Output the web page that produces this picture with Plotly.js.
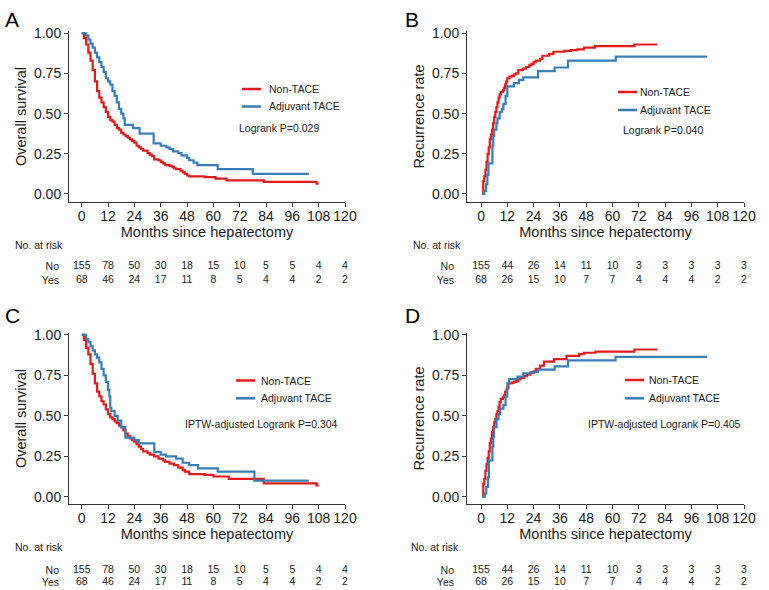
<!DOCTYPE html>
<html><head><meta charset="utf-8">
<script src="https://cdn.plot.ly/plotly-3.0.1.min.js"></script>
<style>html,body{margin:0;padding:0;background:#fff}#chart{width:769px;height:590px}</style>
</head><body><div id="chart"></div>
<script>
// ---------- DATA ----------
// Panel A: overall survival (unadjusted)
var osA_nonT = [0,1,2,3,4,5,6,7,8,9,10,11,12,13,14,15,16,17,18,19,20,21,22,23,24,25,26,27,28,30,31,32,33,35,36,37,38,40,41,42,43,45,46,47,48,49,56,61,66,83,107,108];
var osA_nonS = [1,0.97,0.93,0.88,0.83,0.77,0.70,0.64,0.60,0.57,0.54,0.51,0.48,0.46,0.45,0.43,0.41,0.40,0.38,0.37,0.36,0.35,0.34,0.33,0.32,0.30,0.29,0.28,0.27,0.255,0.245,0.235,0.215,0.21,0.20,0.19,0.18,0.175,0.17,0.16,0.155,0.145,0.135,0.125,0.115,0.11,0.105,0.095,0.085,0.075,0.065,0.065];
var osA_tacT = [0,2,3,4,5,6,7,8,9,10,11,12,13,14,15,16,17,18,19,19.6,23.4,26.4,32.8,36,38.6,40,41.6,44,45.5,48,49,51,52.7,62,78,103.5];
var osA_tacS = [1,0.985,0.96,0.935,0.91,0.88,0.85,0.82,0.79,0.76,0.72,0.70,0.68,0.64,0.61,0.57,0.53,0.50,0.47,0.43,0.41,0.375,0.315,0.30,0.29,0.28,0.265,0.255,0.24,0.225,0.21,0.195,0.18,0.155,0.125,0.125];
// Panel B: recurrence (unadjusted)
var rcB_nonT = [0.5,1,1.5,2,2.5,3,3.5,4,4.5,5,5.5,6,6.5,7,7.5,8,8.5,9,10,10.5,11,11.5,12,13,14,15,16,17,19,20.5,22,23,24,25,27,28,31,33,38,41,44,47,52,70,80.5];
var rcB_nonR = [0,0.08,0.11,0.15,0.20,0.25,0.29,0.34,0.37,0.40,0.44,0.48,0.51,0.54,0.57,0.60,0.62,0.635,0.645,0.66,0.68,0.70,0.72,0.73,0.735,0.745,0.75,0.77,0.78,0.79,0.80,0.81,0.82,0.83,0.84,0.86,0.87,0.885,0.89,0.895,0.90,0.91,0.92,0.93,0.93];
var rcB_tacT = [0.5,1.5,2.3,2.9,3.4,5.2,5.6,6,7,7.5,8.5,9.5,10.2,11.2,12,15,17.3,19.3,26,33.6,39.7,61.5,103.2];
var rcB_tacR = [0,0.02,0.06,0.12,0.19,0.30,0.36,0.40,0.44,0.47,0.51,0.53,0.56,0.61,0.67,0.69,0.71,0.725,0.765,0.787,0.83,0.855,0.855];
// Panel C: overall survival (IPTW)
var osC_nonT = [0,1,2,3,4,5,6,7,8,9,10,11,12,13,14,15,16,17,18,19,20,21,22,23,24,25,26,27,28,30,31,33,35,37,38,40,42,44,46,47,49,56,60,67,83,107,108];
var osC_nonS = [1,0.97,0.92,0.88,0.82,0.76,0.70,0.65,0.62,0.59,0.57,0.54,0.51,0.49,0.48,0.465,0.455,0.44,0.43,0.41,0.39,0.375,0.36,0.35,0.34,0.325,0.31,0.295,0.28,0.27,0.26,0.25,0.235,0.225,0.215,0.205,0.195,0.18,0.165,0.155,0.14,0.135,0.125,0.11,0.082,0.07,0.07];
var osC_tacT = [0,2,3,4,5,6,7,8,9,10,11,12,12.6,13,13.5,15,16.4,18,19.9,24,26,33.1,36,38.4,43,46,49,53,62,78.7,103.5];
var osC_tacS = [1,0.975,0.955,0.93,0.905,0.88,0.86,0.83,0.79,0.75,0.71,0.66,0.62,0.55,0.53,0.50,0.47,0.43,0.365,0.35,0.33,0.277,0.26,0.25,0.235,0.21,0.195,0.175,0.155,0.10,0.10];
// Panel D: recurrence (IPTW)
var rcD_nonT = [0.5,1,1.5,2,2.5,3,3.5,4,4.5,5,5.5,6,6.5,7,7.5,8,8.5,9,10,10.5,11,11.7,12.5,14,15,16,17,18,19.6,21,22.6,24,25,27,28.7,33.3,39,44.7,47,52.3,70,80.5];
var rcD_nonR = [0,0.08,0.11,0.16,0.20,0.24,0.28,0.33,0.36,0.40,0.43,0.46,0.48,0.51,0.53,0.555,0.585,0.605,0.615,0.625,0.65,0.67,0.70,0.705,0.71,0.715,0.725,0.735,0.745,0.755,0.765,0.775,0.79,0.81,0.835,0.85,0.87,0.882,0.89,0.897,0.91,0.91];
var rcD_tacT = [0.5,1.7,2.4,3.2,3.6,5.2,5.6,5.9,7.1,8,8.7,10.2,11.2,12,12.8,16.6,19.3,22.6,26,33.6,39.7,61.4,103.2];
var rcD_tacR = [0,0.02,0.06,0.12,0.225,0.31,0.37,0.43,0.48,0.51,0.545,0.566,0.62,0.70,0.727,0.742,0.762,0.771,0.786,0.806,0.843,0.864,0.864];

// Numbers at risk
var riskTimes = [0,12,24,36,48,60,72,84,96,108,120];
var riskOS_no  = [155,78,50,30,18,15,10,5,5,4,4];
var riskOS_yes = [68,46,24,17,11,8,5,4,4,2,2];
var riskRC_no  = [155,44,26,14,11,10,3,3,3,3,3];
var riskRC_yes = [68,26,15,10,7,7,4,4,4,2,2];
var riskRowLabels = ['No','Yes'];

var groupNames = ['Non-TACE','Adjuvant TACE'];
var panelLetters = ['A','B','C','D'];
var yTitles = ['Overall survival','Recurrence rate','Overall survival','Recurrence rate'];
var pTexts = ['Logrank P=0.029','Logrank P=0.040','IPTW-adjusted Logrank P=0.304','IPTW-adjusted Logrank P=0.405'];
var xTitle = 'Months since hepatectomy';

// ---------- STYLE / LAYOUT ----------
var W = 769, H = 590;
var RED = '#E41A1C', BLUE = '#377EB8';
var FONT = 'Liberation Sans, Arial, Helvetica, sans-serif';
var TXT = '#1a1a1a';
function fx(p){return p/W;}
function fy(p){return 1-p/H;}

var panels = [
  {xd:[69,345], yd:[202,31], xr:[-5.8,120], yr:[-0.0498,1.014], leg:{lx:242,tx:267,y1:89,y2:106.5,px:237,py:128}, letter:[12,19], risk:{lab:13,laby:245,rowR:57,no:266,yes:280}},
  {xd:[467,744], yd:[202,31], xr:[-6.4,120], yr:[-0.0498,1.014], leg:{lx:618,tx:638,y1:92,y2:110,px:621,py:130}, letter:[412,19], risk:{lab:411,laby:245,rowR:452,no:266,yes:280}},
  {xd:[69,345], yd:[504,333], xr:[-5.8,120], yr:[-0.045,1.012], leg:{lx:236,tx:259,y1:380.5,y2:398.3,px:183,py:424}, letter:[12,315], risk:{lab:13,laby:547,rowR:57,no:570,yes:582.3}},
  {xd:[467,744], yd:[504,333], xr:[-6.4,120], yr:[-0.045,1.012], leg:{lx:625,tx:647,y1:380,y2:398.3,px:586,py:423.5}, letter:[412,315], risk:{lab:409,laby:547,rowR:452,no:570,yes:582.3}}
];

var curveData = [
  [osA_nonT, osA_nonS, osA_tacT, osA_tacS],
  [rcB_nonT, rcB_nonR, rcB_tacT, rcB_tacR],
  [osC_nonT, osC_nonS, osC_tacT, osC_tacS],
  [rcD_nonT, rcD_nonR, rcD_tacT, rcD_tacR]
];
var riskData = [
  [riskOS_no, riskOS_yes],[riskRC_no, riskRC_yes],[riskOS_no, riskOS_yes],[riskRC_no, riskRC_yes]
];

var traces = [];
var layout = {
  width: W, height: H,
  margin: {l:0, r:0, t:0, b:0},
  paper_bgcolor: '#fff', plot_bgcolor: 'rgba(0,0,0,0)',
  showlegend: false,
  font: {family: FONT, color: TXT},
  annotations: [], shapes: []
};

panels.forEach(function(p, i){
  var n = i + 1;
  var xa = n === 1 ? 'x' : 'x' + n, ya = n === 1 ? 'y' : 'y' + n;
  var xk = n === 1 ? 'xaxis' : 'xaxis' + n, yk = n === 1 ? 'yaxis' : 'yaxis' + n;
  var c = curveData[i];
  traces.push({type:'scatter', mode:'lines', x:c[0], y:c[1], xaxis:xa, yaxis:ya, name:groupNames[0],
               line:{color:RED, width:2.2, shape:'hv'}, hoverinfo:'skip'});
  traces.push({type:'scatter', mode:'lines', x:c[2], y:c[3], xaxis:xa, yaxis:ya, name:groupNames[1],
               line:{color:BLUE, width:2.2, shape:'hv'}, hoverinfo:'skip'});
  layout[xk] = {
    domain:[fx(p.xd[0]), fx(p.xd[1])], range:p.xr, anchor:ya,
    tickmode:'array', tickvals:riskTimes, ticks:'outside', ticklen:4, tickcolor:'#333', tickwidth:1,
    showline:true, linecolor:'#333', linewidth:1, showgrid:false, zeroline:false,
    tickfont:{size:14, color:TXT, family:FONT}, ticklabelstandoff:-3,
    title:{text:xTitle, font:{size:14.5, color:TXT, family:FONT}, standoff:4}
  };
  layout[yk] = {
    domain:[fy(p.yd[0]), fy(p.yd[1])], range:p.yr, anchor:xa,
    tickmode:'array', tickvals:[0,0.25,0.5,0.75,1], ticktext:['0.00','0.25','0.50','0.75','1.00'],
    ticks:'outside', ticklen:4, tickcolor:'#333', tickwidth:1,
    showline:true, linecolor:'#333', linewidth:1, showgrid:false, zeroline:false,
    tickfont:{size:14, color:TXT, family:FONT},
    title:{text:yTitles[i], font:{size:14.5, color:TXT, family:FONT}, standoff:3}
  };

  // risk table axes
  var rn = n + 4;
  var rxa = 'x' + rn, rya = 'y' + rn;
  var r = p.risk, unit = r.yes - r.no;
  layout['xaxis' + rn] = {domain:[fx(p.xd[0]), fx(p.xd[1])], range:p.xr, anchor:rya, visible:false, fixedrange:true};
  layout['yaxis' + rn] = {
    domain:[fy(r.yes + unit*0.5), fy(r.no - unit*0.5)], range:[0.5,2.5], anchor:rxa,
    tickmode:'array', tickvals:[2,1], ticktext:riskRowLabels, ticks:'', showline:false, showgrid:false, zeroline:false,
    tickfont:{size:10.5, color:TXT, family:FONT}, ticklabelstandoff: (p.xd[0] - r.rowR) - 3
  };
  var rd = riskData[i];
  traces.push({type:'scatter', mode:'text', x:riskTimes, y:riskTimes.map(function(){return 2;}), text:rd[0].map(String),
               xaxis:rxa, yaxis:rya, textfont:{size:10.5, color:TXT, family:FONT}, hoverinfo:'skip', cliponaxis:false});
  traces.push({type:'scatter', mode:'text', x:riskTimes, y:riskTimes.map(function(){return 1;}), text:rd[1].map(String),
               xaxis:rxa, yaxis:rya, textfont:{size:10.5, color:TXT, family:FONT}, hoverinfo:'skip', cliponaxis:false});

  // annotations
  layout.annotations.push({xref:'paper', yref:'paper', x:fx(r.lab), y:fy(r.laby), xanchor:'left', yanchor:'middle',
    text:'No. at risk', showarrow:false, font:{size:10.5, color:TXT, family:FONT}});
  layout.annotations.push({xref:'paper', yref:'paper', x:fx(p.letter[0]), y:fy(p.letter[1]), xanchor:'center', yanchor:'middle',
    text:panelLetters[i], showarrow:false, font:{size:21, color:'#000', family:FONT}});
  var L = p.leg;
  layout.shapes.push({type:'line', xref:'paper', yref:'paper', x0:fx(L.lx), x1:fx(L.lx+19), y0:fy(L.y1), y1:fy(L.y1), line:{color:RED, width:2.5}});
  layout.shapes.push({type:'line', xref:'paper', yref:'paper', x0:fx(L.lx), x1:fx(L.lx+19), y0:fy(L.y2), y1:fy(L.y2), line:{color:BLUE, width:2.5}});
  layout.annotations.push({xref:'paper', yref:'paper', x:fx(L.tx), y:fy(L.y1), xanchor:'left', yanchor:'middle',
    text:groupNames[0], showarrow:false, font:{size:10.5, color:TXT, family:FONT}});
  layout.annotations.push({xref:'paper', yref:'paper', x:fx(L.tx), y:fy(L.y2), xanchor:'left', yanchor:'middle',
    text:groupNames[1], showarrow:false, font:{size:10.5, color:TXT, family:FONT}});
  layout.annotations.push({xref:'paper', yref:'paper', x:fx(L.px), y:fy(L.py), xanchor:'left', yanchor:'middle',
    text:pTexts[i], showarrow:false, font:{size:10.5, color:TXT, family:FONT}});
});

Plotly.newPlot('chart', traces, layout, {staticPlot:true, displayModeBar:false});
</script></body></html>
